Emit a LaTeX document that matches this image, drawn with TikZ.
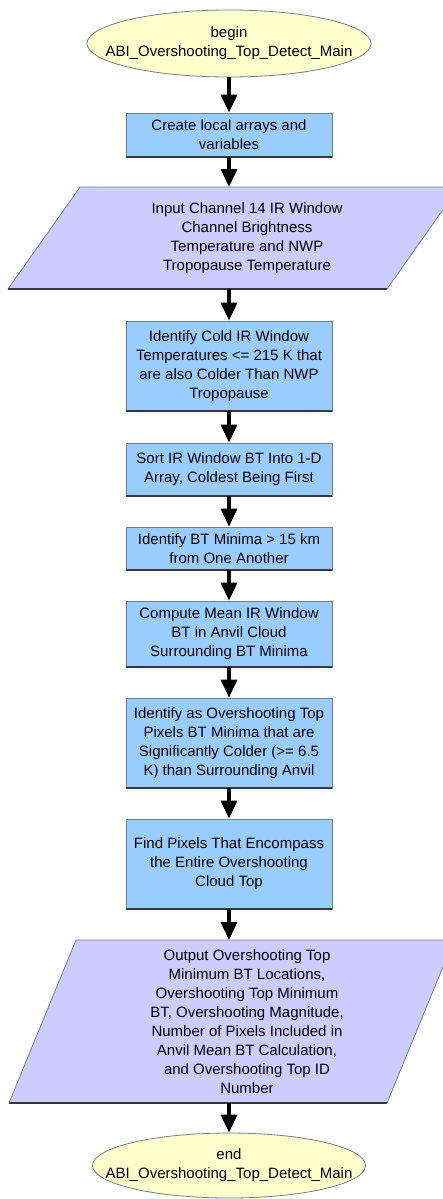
\documentclass[tikz,border=0pt]{standalone}
\usepackage{fontspec}
\setmainfont{Liberation Sans}
\usetikzlibrary{shapes.geometric,arrows.meta}
\definecolor{termfill}{RGB}{255,255,204}
\definecolor{boxfill}{RGB}{153,204,255}
\definecolor{iofill}{RGB}{204,204,255}
\definecolor{edgegray}{RGB}{110,125,145}
\definecolor{shadowdark}{RGB}{55,55,65}
\begin{document}
\begin{tikzpicture}[x=1pt,y=-1pt,
  txt/.style={font=\fontsize{15}{19}\selectfont, align=center, inner sep=0pt, text=black},
  term/.style={ellipse, fill=termfill, draw=edgegray, line width=0.8pt, inner sep=0pt},
  procbox/.style={txt, rectangle, fill=boxfill, draw=edgegray, line width=0.8pt, minimum width=206pt},
  iofillstyle/.style={fill=iofill},
  ioedge/.style={draw=edgegray, line width=0.8pt},
  shadowline/.style={draw=shadowdark, line width=2pt},
  arr/.style={line width=3.5pt, -{Triangle[width=16pt,length=18pt]}},
]
\clip (0,0) rectangle (443,1199);
\fill[white] (0,0) rectangle (443,1199);

% begin terminal
\node[term, minimum width=284pt, minimum height=67pt] (begin) at (229,43.5) {};
\node[txt] (begintxt) at (begin) {begin\\ABI\_Overshooting\_Top\_Detect\_Main};

% process 1
\node[procbox, minimum height=44pt] (b1) at (229,135) {Create local arrays and\\variables};

% input parallelogram
\fill[iofillstyle] (8,289) -- (387,289) -- (459,187) -- (80,187) -- cycle;
\draw[ioedge] (8,289) -- (80,187) -- (459,187);
\draw[ioedge] (387,289) -- (459,187);
\draw[shadowline] (8,289) -- (387,289);
\node[txt] (p1) at (247,238.5) {Input Channel 14 IR Window\\Channel Brightness\\Temperature and NWP\\Tropopause Temperature};
\coordinate (p1in) at (229,187);
\coordinate (p1out) at (229,289);

% processes
\node[procbox, minimum height=90pt] (b2) at (229,366) {Identify Cold IR Window\\Temperatures <= 215 K that\\are also Colder Than NWP\\Tropopause};
\node[procbox, minimum height=53pt] (b3) at (229,469.5) {Sort IR Window BT Into 1-D\\Array, Coldest Being First};
\node[procbox, minimum height=43pt] (b4) at (229,548.5) {Identify BT Minima > 15 km\\from One Another};
\node[procbox, minimum height=66pt] (b5) at (229,634) {Compute Mean IR Window\\BT in Anvil Cloud\\Surrounding BT Minima};
\node[procbox, minimum height=90pt] (b6) at (229,743) {Identify as Overshooting Top\\Pixels BT Minima that are\\Significantly Colder (>= 6.5\\K) than Surrounding Anvil};
\node[procbox, minimum height=90pt] (b7) at (229,864) {Find Pixels That Encompass\\the Entire Overshooting\\Cloud Top};

\foreach \n in {b1,b2,b3,b4,b5,b6,b7}
  \draw[shadowline] (\n.south west) -- (\n.south east);

% output parallelogram
\fill[iofillstyle] (9,1103) -- (387,1103) -- (454,940) -- (76,940) -- cycle;
\draw[ioedge] (9,1103) -- (76,940) -- (454,940);
\draw[ioedge] (387,1103) -- (454,940);
\draw[shadowline] (9,1103) -- (387,1103);
\node[txt] (p2) at (247,1021.5) {Output Overshooting Top\\Minimum BT Locations,\\Overshooting Top Minimum\\BT, Overshooting Magnitude,\\Number of Pixels Included in\\Anvil Mean BT Calculation,\\and Overshooting Top ID\\Number};
\coordinate (p2in) at (229,940);
\coordinate (p2out) at (229,1103);

% end terminal
\node[term, minimum width=273pt, minimum height=65pt] (end) at (229,1165.5) {};
\node[txt] (endtxt) at (end) {end\\ABI\_Overshooting\_Top\_Detect\_Main};

% connectors
\draw[arr] (begin.south) -- (b1.north);
\draw[arr] (b1.south) -- (p1in);
\draw[arr] (p1out) -- (b2.north);
\draw[arr] (b2.south) -- (b3.north);
\draw[arr] (b3.south) -- (b4.north);
\draw[arr] (b4.south) -- (b5.north);
\draw[arr] (b5.south) -- (b6.north);
\draw[arr] (b6.south) -- (b7.north);
\draw[arr] (b7.south) -- (p2in);
\draw[arr] (p2out) -- (end.north);
\end{tikzpicture}
\end{document}
